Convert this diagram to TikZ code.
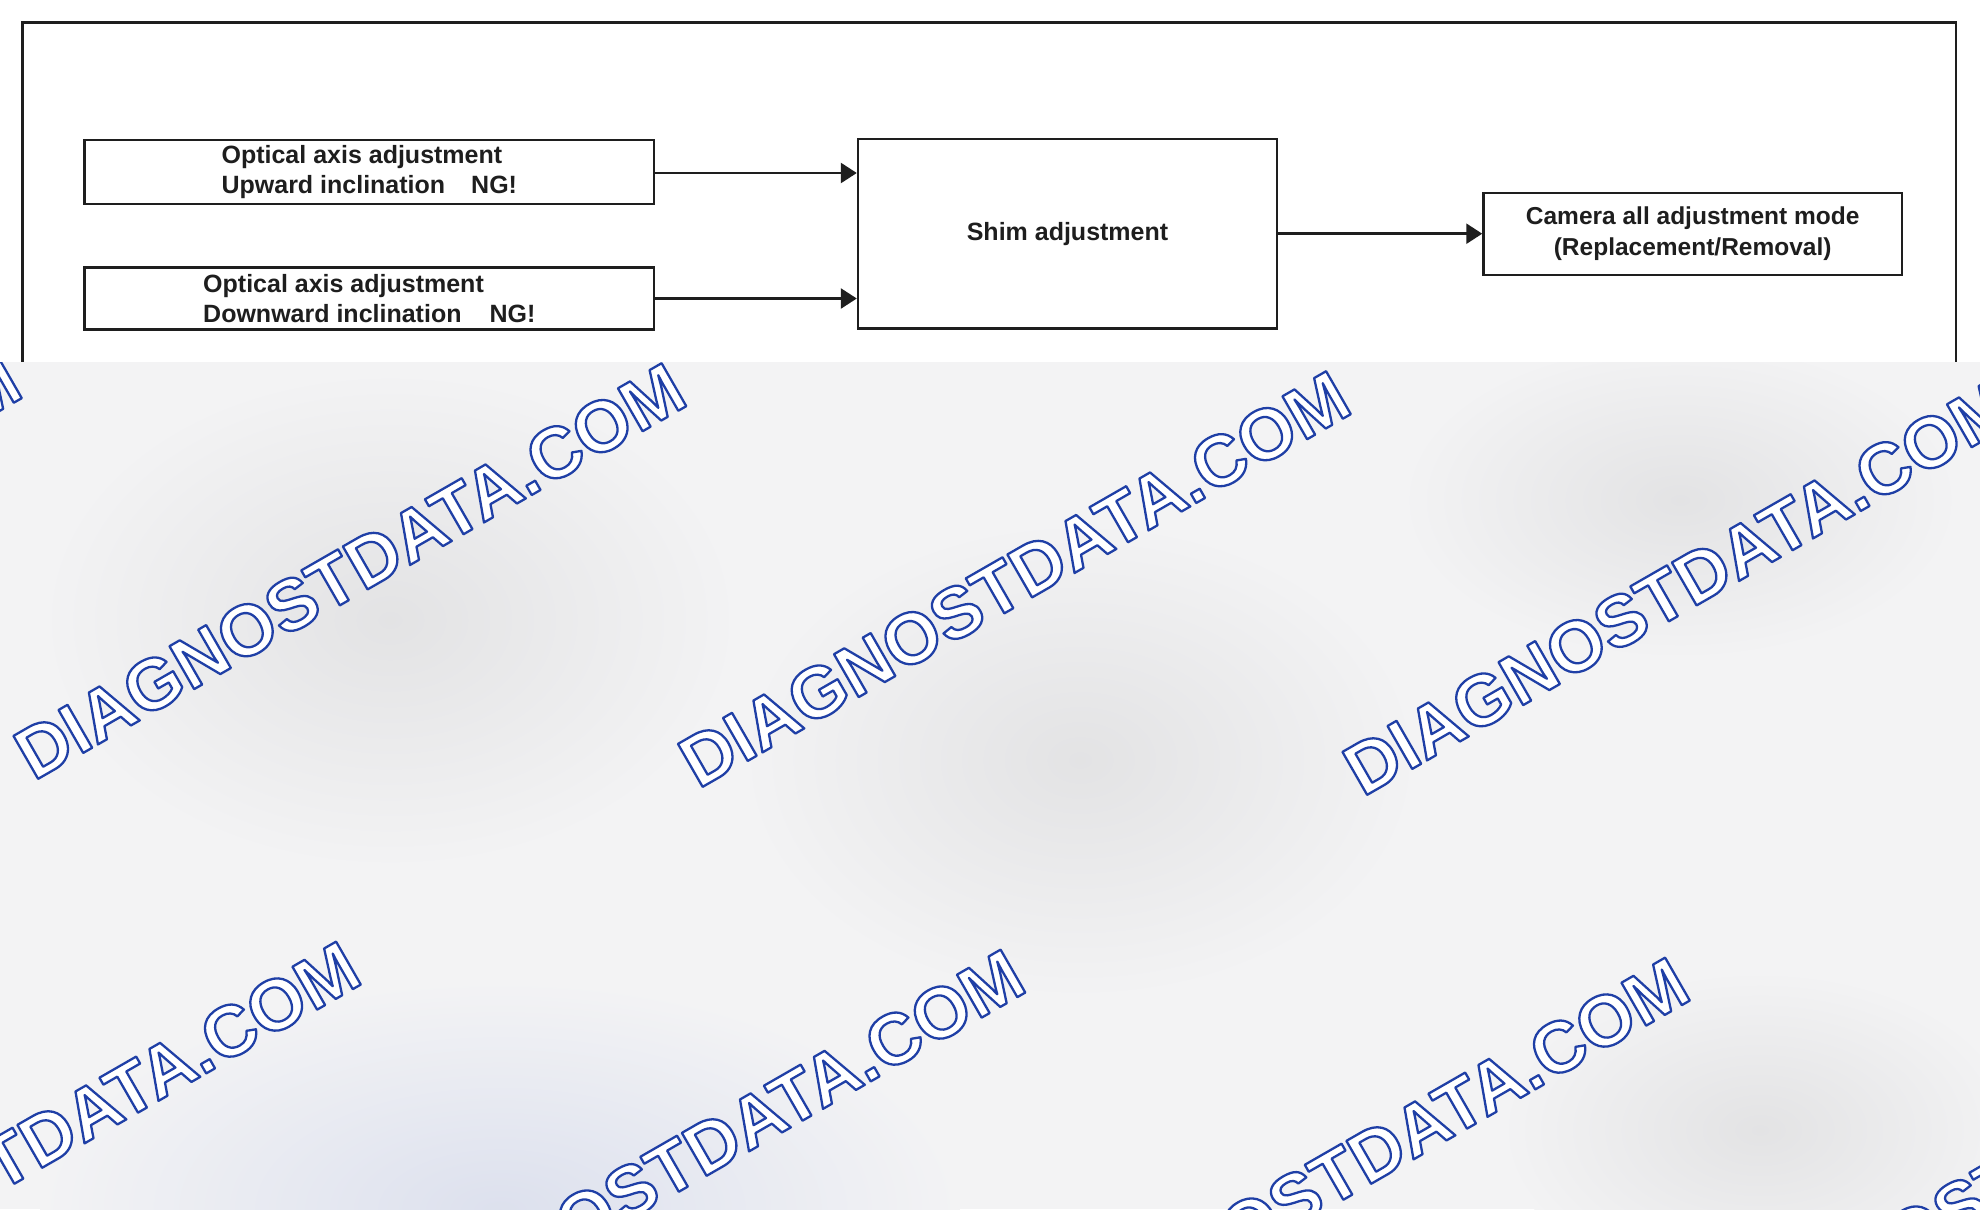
\documentclass[tikz,border=0pt]{standalone}
\usepackage{fontspec}
\setmainfont{Liberation Sans}
\usetikzlibrary{arrows.meta}
\definecolor{ink}{HTML}{1E1E1E}
\definecolor{bgbase}{HTML}{F3F3F4}
\pgfdeclareradialshading{spotgray}{\pgfpoint{0bp}{0bp}}{rgb(0bp)=(0.89,0.89,0.895); rgb(10bp)=(0.915,0.915,0.92); rgb(25bp)=(0.953,0.953,0.957); rgb(50bp)=(0.953,0.953,0.957)}
\pgfdeclareradialshading{spotblue}{\pgfpoint{0bp}{0bp}}{rgb(0bp)=(0.865,0.88,0.93); rgb(10bp)=(0.9,0.91,0.945); rgb(25bp)=(0.953,0.953,0.957); rgb(50bp)=(0.953,0.953,0.957)}
\newcommand\diagfont{\fontsize{25bp}{30bp}\selectfont\bfseries}
\newcommand\camfont{\fontsize{24.5bp}{31bp}\selectfont\bfseries}
\newcommand\wmfont{\fontsize{72bp}{86bp}\selectfont\bfseries}
\newcommand\outlinetext[1]{\special{pdf:code 2 Tr 2.3 w 1 j 0.122 0.247 0.651 RG}#1\special{pdf:code 0 Tr}}
\begin{document}
\begin{tikzpicture}[x=1bp,y=-1bp,
  box/.style={draw=ink, line width=2.4bp, inner sep=0pt, text=ink, font=\diagfont, align=left},
  arr/.style={draw=ink, line width=2.6bp, -{Triangle[length=16bp,width=20bp]}},
  wm/.style={text=white, font=\wmfont, rotate=29.9, anchor=base, inner sep=0pt}]
\useasboundingbox (0,0) rectangle (1980,1209);
\fill[white] (0,0) rectangle (1980,1209);
% frame
\draw[ink, line width=2.4bp] (22.5,362) -- (22.5,22.5) -- (1956,22.5) -- (1956,362);
% boxes
\node[box, minimum width=569.4bp, minimum height=63.5bp] (up) at (369.3,172)
  {Optical axis adjustment\\Upward inclination\hspace{26bp}NG!};
\node[box, minimum width=569.4bp, minimum height=62bp] (down) at (369.3,298.5)
  {Optical axis adjustment\\Downward inclination\hspace{28bp}NG!};
\node[box, minimum width=419bp, minimum height=189.5bp] (shim) at (1067.5,233.7)
  {Shim adjustment};
\node[box, font=\camfont, align=center, minimum width=418.5bp, minimum height=82bp] (cam) at (1692.7,234)
  {Camera all adjustment mode\\(Replacement/Removal)};
% connectors
\coordinate (r1) at (0,173);
\draw[arr] (up.east |- r1) -- (shim.west |- r1);
\draw[arr] (down.east) -- (shim.west |- down.east);
\draw[arr] (shim.east) -- (cam.west |- shim.east);
% watermark overlay
\begin{scope}
  \clip (0,362) rectangle (1980,1209);
  \fill[bgbase] (0,362) rectangle (1980,1209);
  \shade[shading=spotgray] (390,620) ellipse (350 and 250);
  \shade[shading=spotgray] (1080,760) ellipse (340 and 240);
  \shade[shading=spotgray] (1680,500) ellipse (280 and 160);
  \shade[shading=spotblue] (500,1210) ellipse (460 and 230);
  \shade[shading=spotgray] (1760,1130) ellipse (260 and 160);
  \foreach \cx/\cy [count=\k] in {-302.3/584.5, 362.2/592.5, 1026.7/600.5, 1691.2/608.5,
      36.7/1170.9, 701.2/1178.9, 1365.7/1186.9, 2030.2/1194.9}
    \node[wm] (wm\k) at (\cx,\cy) {\outlinetext{DIAGNOSTDATA.COM}};
\end{scope}
\end{tikzpicture}
\end{document}
